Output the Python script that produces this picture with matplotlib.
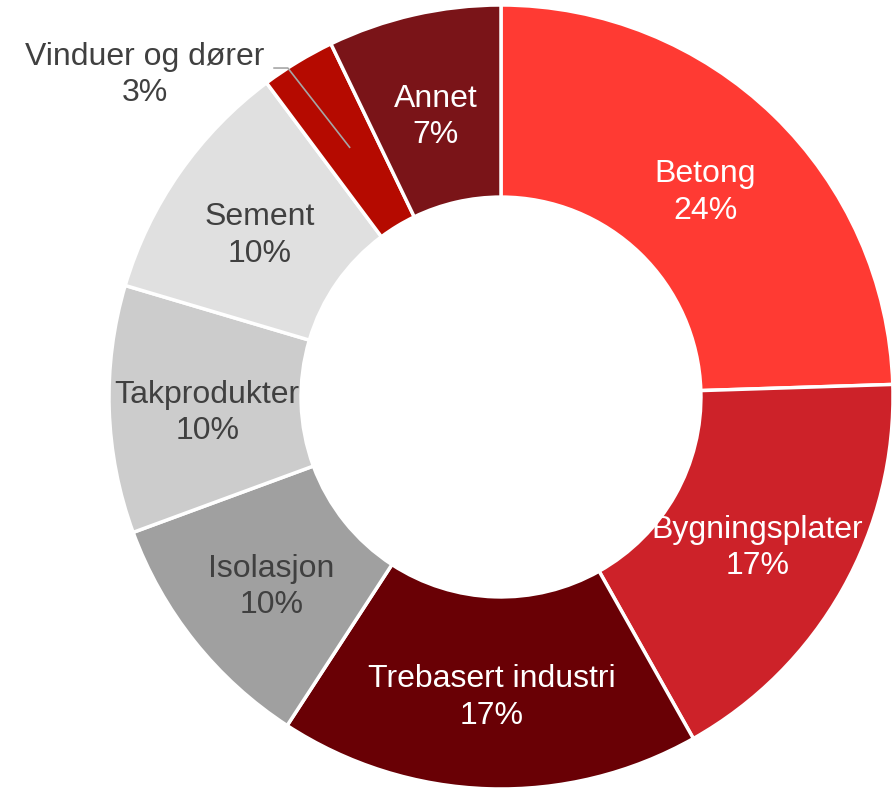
import numpy as np
import matplotlib.pyplot as plt

plt.rcParams['font.family'] = ['Liberation Sans', 'DejaVu Sans']

labels = ['Betong', 'Bygningsplater', 'Trebasert industri', 'Isolasjon',
          'Takprodukter', 'Sement', 'Vinduer og dører', 'Annet']
shares = [24, 17, 17, 10, 10, 10, 3, 7]
colors = ['#FF3A33', '#CD2229', '#690005', '#A0A0A0',
          '#CCCCCC', '#E0E0E0', '#B50A00', '#7A1418']
text_colors = ['white', 'white', 'white', '#404040',
               '#404040', '#404040', '#404040', 'white']

fig = plt.figure(figsize=(8.92, 7.90), dpi=100)
ax = fig.add_axes([109 / 892, 1 / 790, 784 / 892, 784 / 790])

wedges, _ = ax.pie(shares, colors=colors, startangle=90, counterclock=False,
                   radius=1.0,
                   wedgeprops=dict(width=0.49, edgecolor='white', linewidth=2.5))
ax.set_xlim(-1, 1)
ax.set_ylim(-1, 1)

dy = -0.017  # nudge two-line labels down a little
for w, lab, val, tc in zip(wedges, labels, shares, text_colors):
    mid = np.deg2rad((w.theta1 + w.theta2) / 2)
    if lab == 'Vinduer og dører':
        # small slice: label sits outside with a leader line
        x0, y0 = 0.745 * np.cos(mid), 0.745 * np.sin(mid)
        x1, y1 = 1.0 * np.cos(mid + 0.03), 1.0 * np.sin(mid + 0.03)
        ax.plot([x0, x1, x1 - 0.035], [y0, y1, y1], color='#A6A6A6', lw=1.2,
                clip_on=False)
        ax.text(x1 - 0.365, y1 + dy, f'{lab}\n{val}%', ha='center', va='center',
                fontsize=23, color='#404040', linespacing=1.27, clip_on=False)
        continue
    r = 0.75
    ax.text(r * np.cos(mid), r * np.sin(mid) + dy, f'{lab}\n{val}%', ha='center',
            va='center', fontsize=23, color=tc, linespacing=1.27)

fig.savefig('out.png', dpi=100)
